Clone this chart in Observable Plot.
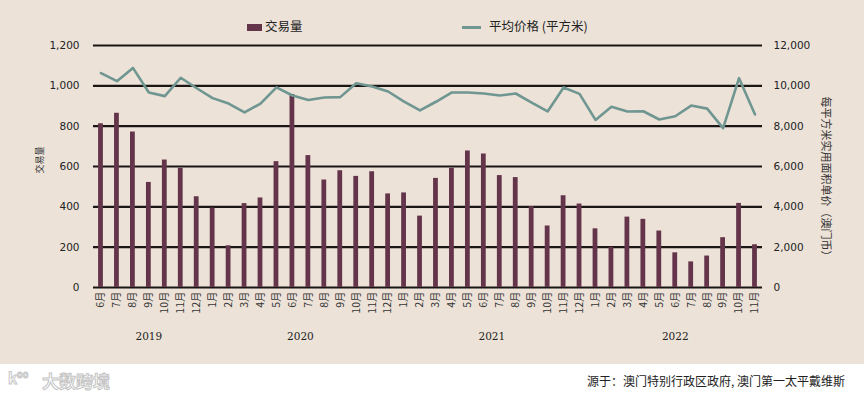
<!DOCTYPE html>
<html><head><meta charset="utf-8">
<script src="https://cdn.jsdelivr.net/npm/d3@7"></script>
<script src="https://cdn.jsdelivr.net/npm/@observablehq/plot@0.6"></script>
<style>
body{margin:0;background:#fff;}
#wrap{position:relative;width:864px;height:398px;background:#fff;font-family:"Noto Sans CJK SC","Noto Sans",sans-serif;color:#222;overflow:hidden;}
#chart{position:absolute;left:0;top:0;width:864px;height:364px;background:#ece2d8;}
.abs{position:absolute;white-space:nowrap;line-height:1;}
</style></head><body>
<div id="wrap">
  <div id="chart"></div>
  <div class="abs" style="left:247px;top:24px;width:15px;height:7px;background:#64344a;"></div>
  <div class="abs" style="left:265px;top:20px;font-size:12.5px;">交易量</div>
  <div class="abs" style="left:462px;top:26px;width:19px;height:3px;background:#6f9691;"></div>
  <div class="abs" style="left:489px;top:20px;font-size:12.5px;">平均价格 (平方米)</div>
  <div class="abs" style="left:39px;top:160px;font-size:9px;color:#333;transform:translate(-50%,-50%) rotate(-90deg);">交易量</div>
  <div class="abs" style="left:826px;top:179px;font-size:11px;color:#333;transform:translate(-50%,-50%) rotate(90deg);">每平方米实用面积单价（澳门币）</div>
  <div class="abs" style="right:19px;top:375px;font-size:12px;color:#222;">源于：澳门特别行政区政府, 澳门第一太平戴维斯</div>
  <div class="abs" style="left:8px;top:370px;font-size:15px;color:#fff;-webkit-text-stroke:1px #c8c8c8;font-weight:bold;">k<sup style="font-size:9px">oo</sup></div>
  <div class="abs" style="left:42px;top:372px;font-size:17px;color:#fff;-webkit-text-stroke:1px #c4c4c4;font-weight:bold;">大数跨境</div>
</div>
<script>
const months = ["6月","7月","8月","9月","10月","11月","12月",
  "1月","2月","3月","4月","5月","6月","7月","8月","9月","10月","11月","12月",
  "1月","2月","3月","4月","5月","6月","7月","8月","9月","10月","11月","12月",
  "1月","2月","3月","4月","5月","6月","7月","8月","9月","10月","11月"];
const years = [2019, 2020, 2021, 2022];
const yearCounts = [7, 12, 12, 11];
const volumes = [812,864,771,521,632,591,450,
  394,207,416,444,624,957,654,533,579,551,574,464,
  469,354,541,591,677,662,555,545,401,305,455,414,
  291,199,349,338,280,172,127,156,247,417,212];
const prices = [10630,10230,10890,9670,9490,10400,9880,
  9390,9120,8680,9120,9920,9520,9300,9420,9440,10130,9970,9720,
  9220,8780,9210,9670,9670,9620,9520,9620,9170,8730,9920,9600,
  8310,8960,8730,8740,8330,8490,9020,8870,7900,10380,8580];
const leftTicks = [0,200,400,600,800,1000,1200];

const yearOf = years.flatMap((y,i)=>Array(yearCounts[i]).fill(y));
const data = months.map((m,i)=>({key:`${yearOf[i]}-${i}`, month:m, vol:volumes[i], price:prices[i]}));
const keys = data.map(d=>d.key);
const labelOf = new Map(data.map(d=>[d.key,d.month]));

let start = 0;
const yearOdd = [], yearEven = [];
years.forEach((y,i)=>{
  const n = yearCounts[i];
  const mid = start + Math.floor((n-1)/2);
  (n % 2 ? yearOdd : yearEven).push({key:keys[mid], year:String(y)});
  start += n;
});

const fmt = d3.format(",");
const plot = Plot.plot({
  width: 864, height: 364,
  marginTop: 45, marginBottom: 77, marginLeft: 93, marginRight: 102,
  style: {background:"#ece2d8", fontFamily:"'DejaVu Sans',sans-serif", fontSize:"10.5px", color:"#222"},
  x: {type:"band", domain: keys, paddingInner: 0.7, paddingOuter: 0.32},
  y: {domain:[0,1200]},
  marks: [
    Plot.gridY(leftTicks, {stroke:"#1a1614", strokeWidth:2.2, strokeOpacity:1}),
    Plot.barY(data, {x:"key", y:"vol", fill:"#64344a"}),
    Plot.line(data, {x:"key", y: d=>d.price/10, stroke:"#6f9691", strokeWidth:2.6}),
    Plot.axisY(leftTicks, {anchor:"left", tickSize:0, tickPadding:14, tickFormat: fmt, label:null, fontSize:10.5}),
    Plot.axisY(leftTicks, {anchor:"right", tickSize:0, tickPadding:11, tickFormat: d=>fmt(d*10), label:null, fontSize:10.5}),
    Plot.axisX({tickRotate:-90, tickSize:0, tickPadding:4, tickFormat: k=>labelOf.get(k), label:null, fontSize:10.5, fontFamily:"'Noto Sans CJK SC',sans-serif", fill:"#333"}),
    Plot.text(yearOdd, {x:"key", text:"year", frameAnchor:"bottom", dy:52, fontFamily:"'DejaVu Serif',serif", fontSize:10.5, fill:"#222"}),
    Plot.text(yearEven, {x:"key", text:"year", frameAnchor:"bottom", dy:52, dx:8, fontFamily:"'DejaVu Serif',serif", fontSize:10.5, fill:"#222"})
  ]
});
document.getElementById("chart").appendChild(plot);
</script>
</body></html>
